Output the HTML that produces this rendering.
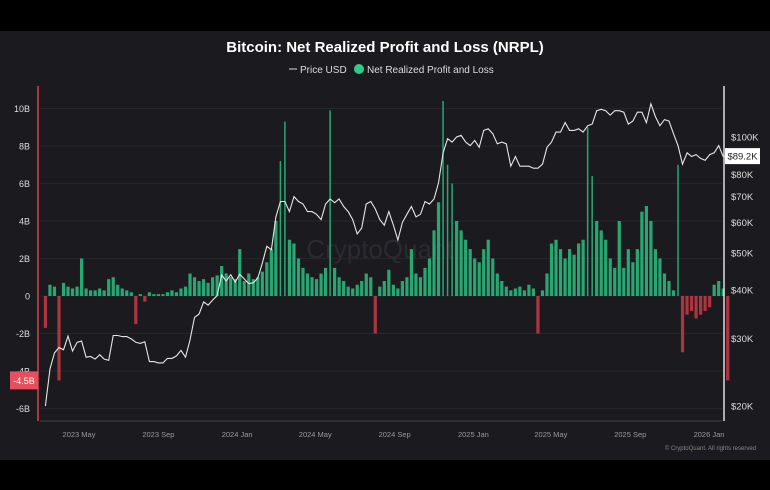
<!DOCTYPE html>
<html><head><meta charset="utf-8">
<style>
html,body{margin:0;padding:0;background:#000;}
svg{display:block;font-family:"Liberation Sans",sans-serif;}
</style></head>
<body>
<svg id="chart" width="770" height="490" viewBox="0 0 770 490">
<rect x="0" y="0" width="770" height="490" fill="#000"/>
<rect x="0" y="31" width="770" height="429" fill="#1b1b1f"/>
<text x="385" y="52" text-anchor="middle" fill="#fff" font-size="15" font-weight="bold">Bitcoin: Net Realized Profit and Loss (NRPL)</text>
<g>
<line x1="289" y1="69" x2="297" y2="69" stroke="#ddd" stroke-width="1"/>
<text x="300" y="73" fill="#ddd" font-size="10">Price USD</text>
<circle cx="359" cy="69" r="5" fill="#2ecc8a"/>
<text x="367" y="73" fill="#ddd" font-size="10">Net Realized Profit and Loss</text>
</g>
<text x="380" y="258" text-anchor="middle" fill="#2a2a30" font-size="26">CryptoQuant</text>
<g id="grid"></g>
<g id="bars"></g>
<g id="price"></g>
<g id="axes"></g>
<text x="756" y="450" text-anchor="end" fill="#888" font-size="6">© CryptoQuant. All rights reserved</text>
</svg>
<script>
const leftTicks = [10, 8, 6, 4, 2, 0, -2, -4, -6];
const leftTickLabels = ["10B","8B","6B","4B","2B","0","-2B","-4B","-6B"];
const rightTicks = [100000, 80000, 70000, 60000, 50000, 40000, 30000, 20000];
const rightTickLabels = ["$100K","$80K","$70K","$60K","$50K","$40K","$30K","$20K"];
const xTickDates = ["2023-05-01","2023-09-01","2024-01-01","2024-05-01","2024-09-01","2025-01-01","2025-05-01","2025-09-01","2026-01-01"];
const xTickLabels = ["2023 May","2023 Sep","2024 Jan","2024 May","2024 Sep","2025 Jan","2025 May","2025 Sep","2026 Jan"];
const startDate = "2023-03-10";
const nrpl = [-1.7,0.6,0.5,-4.5,0.7,0.5,0.4,
0.5,2.0,0.4,0.3,0.3,0.4,
0.3,0.9,1.0,0.6,0.4,0.3,
0.2,-1.5,0.1,-0.3,0.2,0.1,
0.1,0.1,0.2,0.3,0.2,0.4,
0.5,1.2,1.0,0.8,0.9,0.7,
1.0,1.1,1.6,1.2,1.0,0.9,
2.5,0.8,1.2,0.9,1.0,1.3,
1.8,2.5,4.0,7.2,9.3,3.0,
2.8,2.0,1.5,1.2,1.0,0.9,
1.2,1.5,9.9,1.5,1.0,0.8,
0.5,0.4,0.6,0.8,1.2,1.0,
-2.0,0.5,0.8,1.4,0.6,0.4,
0.8,1.0,2.5,1.2,1.0,1.5,
2.0,3.5,5.0,10.4,7.0,6.0,
4.0,3.5,3.0,2.5,2.0,1.8,
2.5,3.0,2.0,1.2,0.8,0.5,
0.3,0.4,0.5,0.3,0.6,0.4,
-2.0,0.3,1.2,2.8,3.0,2.5,
2.0,2.5,2.2,2.8,3.0,9.0,
6.4,4.0,3.5,3.0,2.0,1.5,
4.0,1.5,2.5,1.8,2.5,4.5,
4.8,4.0,2.5,2.0,1.2,0.8,
0.3,7.0,-3.0,-1.0,-0.8,-1.2,
-1.0,-0.8,-0.6,0.6,0.8,0.4,-4.5];
const priceK = [20,25,27.5,28.4,28,30.4,27.8,29.3,29.5,26.8,26.9,26.5,27.2,26.5,26.3,30.5,30.5,30.3,30.3,29.9,29.3,29.1,29.4,26.1,26.1,25.9,25.9,26.6,26.6,27,27.9,26.8,29.7,34,34.7,37.3,36.6,37.7,38.7,43.8,42.3,43.9,42,
44,42.8,41.6,41.8,43,47,52,51,62,68,68,64,70,68,67,64,64,63,61,67,69,67.5,69,66,64,61,56,58,67,68,65,61,59,64,59,54,60,63,66,62,63,68,67,69,76,91,99,97,100,101,97,95,
98,94,104,105,102,96,97,96,84,89,84,84,84,83,83,85,94,97,103,103,109,104,104,105,103,107,108,117,118,117,114,117,117,116,108,110,116,116,109,122,113,107,111,110,102,95,85,91,89,90,88,87,
90,91,95,89,89.2];

const NS="http://www.w3.org/2000/svg";
const X0=79, PXD=0.6455, ZERO=296, PXB=18.75, PLEFT=40, PRIGHT=722;
const dayMs=86400000, ref=Date.parse("2023-05-01");
function xDate(s){return X0+(Date.parse(s)-ref)/dayMs*PXD;}
function xWeek(i){return X0+((Date.parse(startDate)+i*7*dayMs)-ref)/dayMs*PXD;}
function yL(v){return ZERO-v*PXB;}
function yR(p){return 137+(5-Math.log10(p))*385;}
function mk(tag,attrs,parent){const e=document.createElementNS(NS,tag);for(const k in attrs)e.setAttribute(k,attrs[k]);parent.appendChild(e);return e;}

const grid=document.getElementById('grid');
leftTicks.forEach((t,i)=>{
  const l=mk('line',{x1:PLEFT,x2:PRIGHT,y1:yL(t),y2:yL(t),stroke:'#26262b','stroke-width':1},grid);
  
  
});
const bars=document.getElementById('bars');
nrpl.forEach((v,i)=>{
  const x=xWeek(i);
  const y=v>=0?yL(v):ZERO;
  const h=Math.abs(v)*PXB;
  const w=Math.abs(v)>5?1.5:3.2;
  const r=mk('rect',{x:x-w/2,y:y,width:w,height:Math.max(h,0.5),fill:v>=0?'#2bbf82':'#c73a46',opacity:0.85},bars);
  
  
});
const pg=document.getElementById('price');
const pts=priceK.map((p,i)=>xWeek(i).toFixed(1)+','+yR(p*1000).toFixed(1)).join(' ');
const pl=mk('polyline',{points:pts,fill:'none',stroke:'#e6e6e6','stroke-width':1.1},pg);



const ax=document.getElementById('axes');
const la=mk('line',{x1:38,x2:38,y1:86,y2:421,stroke:'#d9434f','stroke-width':1.5},ax);


const ra=mk('line',{x1:724,x2:724,y1:86,y2:421,stroke:'#ddd','stroke-width':1.5},ax);


const ba=mk('line',{x1:40,x2:722,y1:421,y2:421,stroke:'#444','stroke-width':1},ax);


leftTicks.forEach((t,i)=>{
  const tx=mk('text',{x:30,y:yL(t)+3.5,'text-anchor':'end',fill:'#ddd','font-size':9},ax);
  tx.textContent=leftTickLabels[i];
  
  
});
rightTicks.forEach((t,i)=>{
  const tx=mk('text',{x:731,y:yR(t)+3.5,fill:'#ddd','font-size':9.5},ax);
  tx.textContent=rightTickLabels[i];
  
  
});
xTickDates.forEach((d,i)=>{
  const tx=mk('text',{x:xDate(d),y:437,'text-anchor':'middle',fill:'#999','font-size':7.5},ax);
  tx.textContent=xTickLabels[i];
  
  
});
const lastP=priceK[priceK.length-1];
const pb=mk('rect',{x:725,y:yR(lastP*1000)-8,width:35,height:16,fill:'#fff'},ax);


const pt=mk('text',{x:742.5,y:yR(lastP*1000)+3.5,'text-anchor':'middle',fill:'#222','font-size':9.5},ax);
pt.textContent='$'+lastP.toFixed(1)+'K';


const lastN=nrpl[nrpl.length-1];
const nb=mk('rect',{x:10,y:yL(lastN)-9,width:28,height:18,fill:'#e5505c'},ax);


const nt=mk('text',{x:24,y:yL(lastN)+3.5,'text-anchor':'middle',fill:'#fff','font-size':9},ax);
nt.textContent=lastN.toFixed(1)+'B';


</script>
</body></html>
